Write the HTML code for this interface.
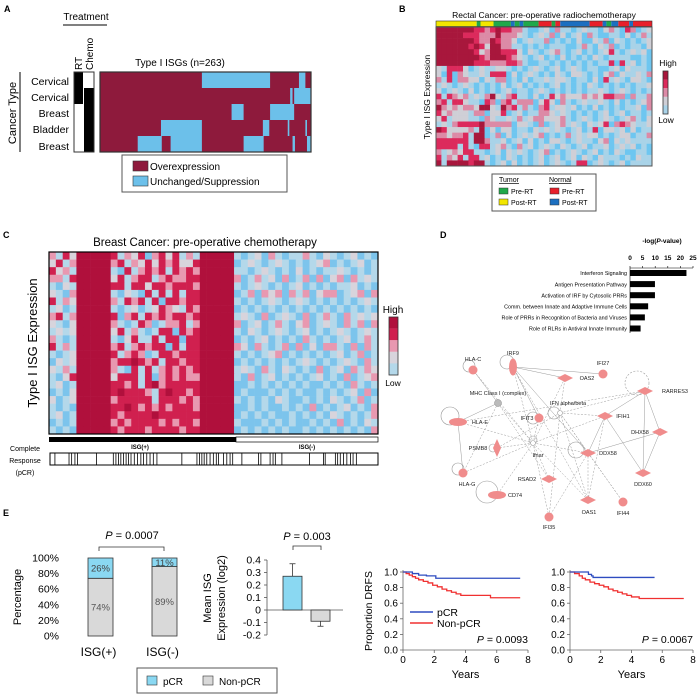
<!DOCTYPE html>
<html><head><meta charset="utf-8">
<style>
html,body{margin:0;padding:0;background:#fff;}
svg{display:block;font-family:"Liberation Sans",Arial,sans-serif;}
</style></head>
<body>
<svg id="fig" width="700" height="700" viewBox="0 0 700 700" xmlns="http://www.w3.org/2000/svg">
<g id="pA">
<text x="4" y="12" font-size="9" font-weight="bold">A</text>
<text x="86" y="20" font-size="10" text-anchor="middle">Treatment</text>
<line x1="63" y1="25" x2="107" y2="25" stroke="#000" stroke-width="1"/>
<text transform="translate(82,70) rotate(-90)" font-size="10">RT</text>
<text transform="translate(93,70) rotate(-90)" font-size="10">Chemo</text>
<text x="180" y="66" font-size="10" text-anchor="middle">Type I ISGs (n=263)</text>
<text transform="translate(16,113) rotate(-90)" font-size="11" text-anchor="middle">Cancer Type</text>
<line x1="20" y1="72" x2="20" y2="152" stroke="#000"/>
<g font-size="10.5" text-anchor="end">
<text x="69" y="85">Cervical</text>
<text x="69" y="101">Cervical</text>
<text x="69" y="117">Breast</text>
<text x="69" y="133">Bladder</text>
<text x="69" y="150">Breast</text>
</g>
<g id="aTreat"></g>
<g id="aHeat"></g>
<rect x="122" y="155" width="165" height="37" fill="#fff" stroke="#555"/>
<rect x="133" y="161" width="15" height="10" fill="#8e1a3c" stroke="#333" stroke-width="0.6"/>
<text x="150" y="170" font-size="10">Overexpression</text>
<rect x="133" y="176" width="15" height="10" fill="#6cc0ea" stroke="#333" stroke-width="0.6"/>
<text x="150" y="185" font-size="10">Unchanged/Suppression</text>
</g>

<g id="pB">
<text x="399" y="12" font-size="9" font-weight="bold">B</text>
<text x="544" y="18" font-size="8.5" text-anchor="middle">Rectal Cancer: pre-operative radiochemotherapy</text>
<g id="bStrip"></g>
<g id="bHeat"></g>
<text transform="translate(430,97) rotate(-90)" font-size="8.5" text-anchor="middle">Type I ISG Expression</text>
<g id="bBar"></g>
<text x="668" y="66" font-size="8.5" text-anchor="middle">High</text>
<text x="666" y="123" font-size="8.5" text-anchor="middle">Low</text>
<rect x="492" y="174" width="104" height="37" fill="#fff" stroke="#555"/>
<g font-size="7">
<text x="499" y="182" text-decoration="underline">Tumor</text>
<text x="549" y="182" text-decoration="underline">Normal</text>
<rect x="499" y="188" width="9" height="6" fill="#1fa84a" stroke="#333" stroke-width="0.5"/>
<text x="511" y="194">Pre-RT</text>
<rect x="499" y="199" width="9" height="6" fill="#f2e600" stroke="#333" stroke-width="0.5"/>
<text x="511" y="205">Post-RT</text>
<rect x="550" y="188" width="9" height="6" fill="#e8202a" stroke="#333" stroke-width="0.5"/>
<text x="562" y="194">Pre-RT</text>
<rect x="550" y="199" width="9" height="6" fill="#1c6fc0" stroke="#333" stroke-width="0.5"/>
<text x="562" y="205">Post-RT</text>
</g>
</g>

<g id="pC">
<text x="3" y="238" font-size="9" font-weight="bold">C</text>
<text x="205" y="246" font-size="11.5" text-anchor="middle">Breast Cancer: pre-operative chemotherapy</text>
<g id="cHeat"></g>
<text transform="translate(37,343) rotate(-90)" font-size="13" text-anchor="middle">Type I ISG Expression</text>
<g id="cBar"></g>
<text x="393" y="313" font-size="10" text-anchor="middle">High</text>
<text x="393" y="386" font-size="8.5" text-anchor="middle">Low</text>
<rect x="49" y="437" width="187" height="5" fill="#000"/>
<rect x="236" y="437" width="142" height="5" fill="#fff" stroke="#000" stroke-width="0.7"/>
<text x="140" y="449" font-size="6" font-weight="bold" text-anchor="middle">ISG(+)</text>
<text x="307" y="449" font-size="6" font-weight="bold" text-anchor="middle">ISG(-)</text>
<g font-size="7" text-anchor="middle">
<text x="25" y="451">Complete</text>
<text x="25" y="463">Response</text>
<text x="25" y="475">(pCR)</text>
</g>
<rect x="50" y="453" width="328" height="12" fill="#fff" stroke="#000" stroke-width="1"/>
<g id="cPcr"></g>
</g>

<g id="pD">
<text x="440" y="238" font-size="9" font-weight="bold">D</text>
<text x="662" y="243" font-size="6.5" font-weight="bold" text-anchor="middle">-log(<tspan font-style="italic">P</tspan>-value)</text>
<g id="dBars"></g>
<g id="dNet"></g>
</g>

<g id="pE">
<text x="3" y="516" font-size="9" font-weight="bold">E</text>
<g id="eStack"></g>
<g id="eMean"></g>
<rect x="137" y="668" width="140" height="25" fill="#fff" stroke="#555"/>
<rect x="147" y="676" width="10" height="9" fill="#8ad8f2" stroke="#333" stroke-width="0.6"/>
<text x="163" y="685" font-size="10">pCR</text>
<rect x="203" y="676" width="10" height="9" fill="#d9d9d9" stroke="#333" stroke-width="0.6"/>
<text x="219" y="685" font-size="10">Non-pCR</text>
<g id="eKM1"></g>
<g id="eKM2"></g>
</g>
</svg>

<script>
var NS="http://www.w3.org/2000/svg";
function mk(parent,tag,attrs){var e=document.createElementNS(NS,tag);for(var k in attrs)e.setAttribute(k,attrs[k]);parent.appendChild(e);return e;}
function $(id){return document.getElementById(id);}

/* ---------- Panel A data ---------- */
var aGeneCount=263;
var aRowLabels=["Cervical","Cervical","Breast","Bladder","Breast"];
var aRT=[1,1,0,0,0];
var aChemo=[0,1,1,1,1];
var aBlueRanges=[
 [[127,211],[248,255]],
 [[237,239],[242,262]],
 [[164,178],[212,241]],
 [[76,126],[203,210],[234,235],[256,257]],
 [[47,76],[88,126],[179,203],[240,242],[258,262]]
];

/* ---------- Panel B data ---------- */
var bGroups=["TPost","TPre","TPost","TPre","NPost","TPre","NPost","TPre","NPre","TPre","NPre","NPost","NPre","NPost","TPre","NPost","NPre","NPost","NPre"];
var bGroupLen=[7.5,0.7,2.4,3.2,0.7,0.9,0.7,2.8,2.4,0.7,0.9,5.4,2.4,0.7,0.9,1.3,2.0,0.7,3.5];
var bRows=[
"5555555443454433100120311012110231043012",
"5555544433353332101213020120310011020131",
"5555555433543320121130101020021302101012",
"5555554542553311010101110013102130101102",
"5555555423554442021012310120101241012120",
"5555555543555432101201020101021011110010",
"5555555444333443100110101010101140412010",
"2144420121122101012101201210110012021110",
"2040321121444020121010210221010230211213",
"3140332202133010201121221011020412102210",
"1210121010102012010101201010210101010112",
"2012102010101201101210101010112101210101",
"4143231213521341102014232223232443303113",
"3414421104303413330242031012112102010123",
"5323233255215341310341221201020101011203",
"4232221330224012011332121010101201201101",
"2412221103211213123322231012101210123102",
"1213444453333302210301231210212403432112",
"5422223150202201102121210120140221202011",
"3323341550130201212301013121220101220113",
"4444441553112012020102210121102302121111",
"4444141044123103120121021012011201212010",
"3123244110120212101230101210120102100110",
"4132414412010210101201201202102111010211",
"5155554551012020101201210144012101201111"
];

/* ---------- Panel C data ---------- */
var cLeftA=["3142","2413","4231","3314","1021","2103","4132","1201","3413","2102","1212","3101","4131","1012","0212","2131","1024","1201","0102","2012","1010","1201","0101","1010"];
var cLeftB=["4132403424131","3413242434224","1041343414343","2413441343344","4414424434443","1021041414144","3143414044344","1012012432143","4034143434434","3101430133413","2413101440434","1024114144044","3413434404144","4134301443444","3445434144344","3104141343434","2444140343433","4434145344444","4544431454434","3444441444343","4454343434443","4344445444444","3434444343443","4344434444344"];
var cRight=["101203101131021012010","012101210101230101201","110121010201011210101","301312030130302303121","101210101201010112010","013032303130233012303","101012101210101010121","010101010101010101010","121030121030131031212","301201310230121031303","102101210120101210121","010120101031010120131","320310130302033103031","101012301010101201301","010101010121010121031","121031021010301203132","103012010101201030123","001010101010010103101","010001010100101012030","101010210010102101301","001010010103010120103","010101001010102101013","100010101001010301021","010101010010101010103"];
var pcrPos=[.015,.058,.066,.076,.084,.142,.193,.201,.209,.216,.224,.232,.239,.247,.257,.267,.277,.285,.295,.305,.315,.326,.402,.448,.456,.463,.470,.478,.488,.498,.507,.514,.529,.539,.549,.557,.585,.636,.643,.671,.680,.687,.707,.791,.834,.839,.870,.877,.885,.895,.905,.916,.924,.934];

/* ---------- Panel D data ---------- */
var dPathways=["Interferon Signaling","Antigen Presentation Pathway","Activation of IRF by Cytosolic PRRs","Comm. between Innate and Adaptive Immune Cells","Role of PRRs in Recognition of Bacteria and Viruses","Role of RLRs in Antiviral Innate Immunity"];
var dValues=[22.4,9.9,9.9,7.2,5.9,4.2];
var dTicks=[0,5,10,15,20,25];

/* ---------- Panel E data ---------- */
var eGroups=["ISG(+)","ISG(-)"];
var ePcr=[26,11];
var eNonPcr=[74,89];
var ePctTicks=[0,20,40,60,80,100];
var eMeanVals=[0.27,-0.09];
var eMeanErr=[0.10,0.04];
var eMeanTicks=[-0.2,-0.1,0,0.1,0.2,0.3,0.4];
var eMeanTickLabels=["-0.2","-0.1","0","0.1","0.2","0.3","0.4"];
var kmYTicks=[0,0.2,0.4,0.6,0.8,1.0];
var kmXTicks=[0,2,4,6,8];
var km1PcrT=[0,0.6,1.0,1.5,2.1,7.5];
var km1PcrS=[1,0.98,0.96,0.95,0.92,0.92];
var km1NonT=[0,0.2,0.4,0.6,0.8,1.0,1.3,1.6,1.9,2.2,2.5,2.8,3.1,3.4,3.7,4.0,5.0,5.6,7.5];
var km1NonS=[1,0.98,0.96,0.94,0.92,0.90,0.88,0.86,0.83,0.81,0.78,0.76,0.74,0.72,0.70,0.70,0.70,0.67,0.67];
var km2PcrT=[0,1.2,1.4,1.5,5.5];
var km2PcrS=[1,0.97,0.95,0.93,0.93];
var km2NonT=[0,0.3,0.6,0.8,1.0,1.3,1.6,1.9,2.2,2.5,2.8,3.1,3.4,3.7,4.0,4.5,7.4];
var km2NonS=[1,0.98,0.95,0.92,0.90,0.87,0.85,0.83,0.81,0.78,0.76,0.74,0.72,0.70,0.68,0.66,0.66];

/* ===== Draw A ===== */
(function(){
 var x0=100,x1=311,y0=72,rh=16,g=$("aHeat"),t=$("aTreat");
 var sx=function(i){return x0+(x1-x0)*i/aGeneCount;};
 for(var r=0;r<aRowLabels.length;r++){
  var bg=mk(g,"rect",{x:x0,y:y0+r*rh,width:x1-x0,height:rh,fill:"#8e1a3c"});
  
  
  aBlueRanges[r].forEach(function(rg){
   var c=mk(g,"rect",{x:sx(rg[0]),y:y0+r*rh,width:sx(rg[1]+1)-sx(rg[0]),height:rh,fill:"#6cc0ea"});
   
   
  });
  var a=mk(t,"rect",{x:74,y:y0+r*rh,width:9,height:rh,fill:aRT[r]?"#000":"#fff"});
  
  
  var b=mk(t,"rect",{x:84,y:y0+r*rh,width:10,height:rh,fill:aChemo[r]?"#000":"#fff"});
  
  
 }
 mk(g,"rect",{x:x0,y:y0,width:x1-x0,height:80,fill:"none",stroke:"#333","stroke-width":1.2});
 mk(t,"rect",{x:74,y:y0,width:20,height:80,fill:"none",stroke:"#333","stroke-width":1});
})();

/* ===== Draw B ===== */
var palB=["#6ec6f0","#a9d3e8","#cfcfd6","#dc8aa6","#dc2a5c","#a8173c"];
(function(){
 var x0=436,x1=652,y0=27,y1=166,g=$("bHeat");
 var nc=bRows[0].length,nr=bRows.length,cw=(x1-x0)/nc,rh=(y1-y0)/nr;
 for(var r=0;r<nr;r++)for(var c=0;c<nc;c++){
  var v=+bRows[r][c];
  var e=mk(g,"rect",{x:x0+c*cw,y:y0+r*rh,width:cw+0.3,height:rh+0.3,fill:palB[v]});
  
  
 }
 mk(g,"rect",{x:x0,y:y0,width:x1-x0,height:y1-y0,fill:"none",stroke:"#555","stroke-width":1});
 var cols={TPre:"#1fa84a",TPost:"#f2e600",NPre:"#e8202a",NPost:"#1c6fc0"};
 var tot=bGroupLen.reduce(function(a,b){return a+b;},0),cx=x0,s=$("bStrip");
 for(var i=0;i<bGroups.length;i++){
  var w=(x1-x0)*bGroupLen[i]/tot;
  var e2=mk(s,"rect",{x:cx,y:21,width:w,height:5.5,fill:cols[bGroups[i]]});
  
  
  cx+=w;
 }
 mk(s,"rect",{x:x0,y:21,width:x1-x0,height:5.5,fill:"none",stroke:"#333","stroke-width":0.6});
 var bb=$("bBar");
 for(var k=0;k<5;k++){mk(bb,"rect",{x:663,y:71+k*8.6,width:5,height:8.7,fill:palB[5-k]});}
 var o=mk(bb,"rect",{x:663,y:71,width:5,height:43,fill:"none",stroke:"#333","stroke-width":0.8});
 
 
})();

/* ===== Draw C ===== */
var palC=["#7cc4ec","#b4d8ea","#d8d4dc","#e898b0","#d0204f","#b0103c"];
(function(){
 var x0=49,x1=378,y0=252,y1=434,g=$("cHeat"),nc=48,nr=cLeftA.length;
 var cw=(x1-x0)/nc,rh=(y1-y0)/nr;
 for(var r=0;r<nr;r++){
  var row=(cLeftA[r]+"55555"+cLeftB[r]+"55555"+cRight[r]);
  for(var c=0;c<nc&&c<row.length;c++){
   var v=+row[c];
   var e=mk(g,"rect",{x:x0+c*cw,y:y0+r*rh,width:cw+0.3,height:rh+0.3,fill:palC[v]});
   
   
  }
 }
 mk(g,"rect",{x:x0,y:y0,width:x1-x0,height:y1-y0,fill:"none",stroke:"#000","stroke-width":1.2});
 var cb=$("cBar");
 for(var k=0;k<5;k++){mk(cb,"rect",{x:389,y:317+k*11.6,width:9,height:11.7,fill:palC[5-k]});}
 var o=mk(cb,"rect",{x:389,y:317,width:9,height:58,fill:"none",stroke:"#333","stroke-width":0.8});
 
 
 var p=$("cPcr");
 pcrPos.forEach(function(f){
  var l=mk(p,"line",{x1:50+328*f,y1:453,x2:50+328*f,y2:465,stroke:"#000","stroke-width":0.8});
  
  
 });
})();

/* ===== Draw D ===== */
(function(){
 var g=$("dBars"),ax0=630,ax1=693,sx=function(v){return ax0+(ax1-ax0)*v/25;};
 dTicks.forEach(function(t){
  var tx=mk(g,"text",{x:sx(t),y:260,"font-size":6.5,"font-weight":"bold","text-anchor":"middle"});
  tx.textContent=t;
  
  
  mk(g,"line",{x1:sx(t),y1:266,x2:sx(t),y2:268,stroke:"#000","stroke-width":0.6});
 });
 mk(g,"line",{x1:ax0,y1:268,x2:ax1,y2:268,stroke:"#000","stroke-width":0.6});
 mk(g,"line",{x1:ax0,y1:268,x2:ax0,y2:333,stroke:"#000","stroke-width":0.6});
 dPathways.forEach(function(p,i){
  var cy=273+i*11.1;
  var b=mk(g,"rect",{x:ax0,y:cy-3,width:sx(dValues[i])-ax0,height:6,fill:"#000"});
  
  
  var t=mk(g,"text",{x:627,y:cy+2.2,"font-size":5.4,"text-anchor":"end"});
  t.textContent=p;
  
  
 });
 var n=$("dNet");
 var nodes={
  "HLA-C":[473,370,"c"],"IRF9":[513,367,"ev"],"IFI27":[603,374,"c"],"OAS2":[565,378,"d"],
  "MHC":[498,403,"g"],"IFN":[560,413,"o"],"RARRES3":[645,391,"d"],"IFIH1":[605,416,"d"],
  "IFIT3":[539,418,"c"],"HLA-E":[458,422,"eh"],"DHX58":[660,432,"d"],"PSMB8":[497,448,"dv"],
  "Ifnar":[533,443,"o"],"DDX58":[588,453,"d"],"HLA-G":[463,473,"c"],"RSAD2":[549,479,"d"],
  "DDX60":[643,473,"d"],"CD74":[497,495,"eh"],"OAS1":[588,500,"d"],"IFI44":[623,502,"c"],"IFI35":[549,517,"c"]
 };
 var dashed=[["Ifnar","IRF9"],["Ifnar","HLA-E"],["Ifnar","PSMB8"],["Ifnar","HLA-G"],["Ifnar","RSAD2"],["Ifnar","OAS1"],["Ifnar","IFI35"],["Ifnar","DDX58"],["Ifnar","IFIH1"],["Ifnar","OAS2"],["Ifnar","MHC"],["Ifnar","IFIT3"],["Ifnar","CD74"],["Ifnar","HLA-C"],
  ["IFN","RARRES3"],["IFN","IFIH1"],["IFN","OAS2"],["IFN","IFI35"],["IFN","OAS1"],["IFN","IFI44"],["IFN","DDX58"],["IFN","PSMB8"],["MHC","HLA-G"],["MHC","RSAD2"],["DDX58","IFI35"],["DDX58","OAS1"],["DDX58","IFI44"],["IFIH1","OAS1"],["IRF9","OAS1"],["RARRES3","HLA-E"]];
 var solid=[["IRF9","IFI27"],["IRF9","OAS2"],["IRF9","IFIT3"],["IRF9","DDX58"],["MHC","HLA-E"],["MHC","HLA-C"],["HLA-E","HLA-G"],["RARRES3","DHX58"],["RARRES3","IFIH1"],["DHX58","DDX60"],["DHX58","DDX58"],["IFIH1","DDX60"],["DDX58","IFIH1"],["RARRES3","DDX60"]];
 function edge(pair,dash){
  var a=nodes[pair[0]],b=nodes[pair[1]];
  var l=mk(n,"line",{x1:a[0],y1:a[1],x2:b[0],y2:b[1],stroke:"#999","stroke-width":0.5});
  if(dash)l.setAttribute("stroke-dasharray","2,1.5");
  
  
 }
 dashed.forEach(function(p){edge(p,true);});
 solid.forEach(function(p){edge(p,false);});
 // self loops
 [["HLA-C",-4,-4,6],["IRF9",-6,-5,7],["HLA-E",-8,-6,9],["HLA-G",-5,-4,6],["CD74",-10,-3,11],["DDX58",-12,-3,8],["Ifnar",0,-3,4],["PSMB8",-4,0,4],["IFN",-6,0,6],["RARRES3",-8,-8,12],["IFIT3",-6,0,6]].forEach(function(s){
  var a=nodes[s[0]];
  mk(n,"circle",{cx:a[0]+s[1],cy:a[2]?a[1]+s[2]:a[1],r:s[3],fill:"none",stroke:"#999","stroke-width":0.6,"stroke-dasharray":s[0]=="RARRES3"?"2,1.5":"none"});
 });
 var fill="#f08c8c";
 for(var k in nodes){
  var a=nodes[k],sh=a[2],el;
  if(sh=="c")el=mk(n,"circle",{cx:a[0],cy:a[1],r:4.5,fill:fill});
  else if(sh=="ev")el=mk(n,"ellipse",{cx:a[0],cy:a[1],rx:4,ry:8.5,fill:fill});
  else if(sh=="eh")el=mk(n,"ellipse",{cx:a[0],cy:a[1],rx:9,ry:4,fill:fill});
  else if(sh=="d")el=mk(n,"polygon",{points:(a[0]-8)+","+a[1]+" "+a[0]+","+(a[1]-4)+" "+(a[0]+8)+","+a[1]+" "+a[0]+","+(a[1]+4),fill:fill});
  else if(sh=="dv")el=mk(n,"polygon",{points:(a[0]-4)+","+a[1]+" "+a[0]+","+(a[1]-9)+" "+(a[0]+4)+","+a[1]+" "+a[0]+","+(a[1]+9),fill:fill});
  else if(sh=="g")el=mk(n,"circle",{cx:a[0],cy:a[1],r:3.5,fill:"#bbb",stroke:"#888","stroke-width":0.5});
  else el=mk(n,"circle",{cx:a[0],cy:a[1],r:2.5,fill:"#fff",stroke:"#999","stroke-width":0.6});
  
  
 }
 var labels=[["HLA-C",473,361],["IRF9",513,355],["IFI27",603,365],["OAS2",587,380],["MHC Class I (complex)",498,395],["IFN alpha/beta",568,405],["RARRES3",675,393],["IFIH1",623,418],["IFIT3",527,420],["HLA-E",480,424],["DHX58",640,434],["PSMB8",478,450],["Ifnar",538,457],["DDX58",608,455],["HLA-G",467,486],["RSAD2",527,481],["DDX60",643,486],["CD74",515,497],["OAS1",589,514],["IFI44",623,515],["IFI35",549,529]];
 labels.forEach(function(L){
  var t=mk(n,"text",{x:L[1],y:L[2],"font-size":5.5,"text-anchor":"middle",fill:"#222"});
  t.textContent=L[0];
  
  
 });
})();

/* ===== Draw E stacked ===== */
(function(){
 var g=$("eStack"),y0=636,y100=558,sy=function(v){return y0-(y0-y100)*v/100;};
 var bx=[88,152],bw=25;
 ePctTicks.forEach(function(t){
  var tx=mk(g,"text",{x:59,y:sy(t)+3.5,"font-size":10.5,"text-anchor":"end"});
  tx.textContent=t+"%";
  
  
 });
 var yl=mk(g,"text",{transform:"translate(21,597) rotate(-90)","font-size":11,"text-anchor":"middle"});
 yl.textContent="Percentage";
 
 
 for(var i=0;i<2;i++){
  var n=mk(g,"rect",{x:bx[i],y:sy(eNonPcr[i]),width:bw,height:y0-sy(eNonPcr[i]),fill:"#d9d9d9",stroke:"#333","stroke-width":0.8});
  
  
  var p=mk(g,"rect",{x:bx[i],y:sy(eNonPcr[i]+ePcr[i]),width:bw,height:sy(eNonPcr[i])-sy(eNonPcr[i]+ePcr[i]),fill:"#8ad8f2",stroke:"#333","stroke-width":0.8});
  
  
  var t1=mk(g,"text",{x:bx[i]+bw/2,y:(sy(eNonPcr[i])+sy(eNonPcr[i]+ePcr[i]))/2+3.5,"font-size":9.5,"text-anchor":"middle",fill:"#444"});
  t1.textContent=ePcr[i]+"%";
  
  
  var t2=mk(g,"text",{x:bx[i]+bw/2,y:(y0+sy(eNonPcr[i]))/2+3.5,"font-size":9.5,"text-anchor":"middle",fill:"#555"});
  t2.textContent=eNonPcr[i]+"%";
  
  
  var xl=mk(g,"text",{x:bx[i]+bw/2-2,y:656,"font-size":12,"text-anchor":"middle"});
  xl.textContent=eGroups[i];
  
  
 }
 mk(g,"path",{d:"M99,551 L99,547 L164,547 L164,551",fill:"none",stroke:"#333","stroke-width":0.8});
 var pt=mk(g,"text",{x:132,y:539,"font-size":11,"text-anchor":"middle"});
 pt.innerHTML='<tspan font-style="italic">P</tspan> = 0.0007';
 
 

 /* mean ISG */
 var m=$("eMean"),zy=610,per=125,my=function(v){return zy-per*v;};
 mk(m,"line",{x1:267,y1:my(0.4),x2:267,y2:my(-0.2),stroke:"#555","stroke-width":0.8});
 mk(m,"line",{x1:267,y1:zy,x2:343,y2:zy,stroke:"#555","stroke-width":0.8});
 eMeanTicks.forEach(function(t,i){
  mk(m,"line",{x1:264,y1:my(t),x2:267,y2:my(t),stroke:"#555","stroke-width":0.8});
  var tx=mk(m,"text",{x:261,y:my(t)+3.5,"font-size":10.5,"text-anchor":"end"});
  tx.textContent=eMeanTickLabels[i];
  
  
 });
 var mx=[283,311],mw=19,mc=["#8ad8f2","#d9d9d9"];
 for(var j=0;j<2;j++){
  var v=eMeanVals[j],top=Math.min(my(v),zy),h=Math.abs(my(v)-zy);
  var b=mk(m,"rect",{x:mx[j],y:top,width:mw,height:h,fill:mc[j],stroke:"#333","stroke-width":0.8});
  
  
  var ev=v+(v>=0?eMeanErr[j]:-eMeanErr[j]);
  mk(m,"line",{x1:mx[j]+mw/2,y1:my(v),x2:mx[j]+mw/2,y2:my(ev),stroke:"#333","stroke-width":0.8});
  mk(m,"line",{x1:mx[j]+mw/2-3,y1:my(ev),x2:mx[j]+mw/2+3,y2:my(ev),stroke:"#333","stroke-width":0.8});
 }
 mk(m,"path",{d:"M293,550 L293,546 L321,546 L321,550",fill:"none",stroke:"#333","stroke-width":0.8});
 var pt2=mk(m,"text",{x:307,y:540,"font-size":11,"text-anchor":"middle"});
 pt2.innerHTML='<tspan font-style="italic">P</tspan> = 0.003';
 
 
 var a1=mk(m,"text",{transform:"translate(211,598) rotate(-90)","font-size":11,"text-anchor":"middle"});
 a1.textContent="Mean ISG";
 
 
 var a2=mk(m,"text",{transform:"translate(225,598) rotate(-90)","font-size":11,"text-anchor":"middle"});
 a2.textContent="Expression (log2)";
 
 
})();

/* ===== KM ===== */
function drawKM(g,x0,x8,pT,pS,nT,nS,ptxt,showLegend,showY){
 var y0=650,y1=572,sx=function(t){return x0+(x8-x0)*t/8;},sy=function(s){return y0-(y0-y1)*s;};
 mk(g,"line",{x1:x0,y1:y1-2,x2:x0,y2:y0,stroke:"#666","stroke-width":0.8});
 mk(g,"line",{x1:x0,y1:y0,x2:x8,y2:y0,stroke:"#666","stroke-width":0.8});
 kmYTicks.forEach(function(t){
  mk(g,"line",{x1:x0-3,y1:sy(t),x2:x0,y2:sy(t),stroke:"#666","stroke-width":0.8});
  var tx=mk(g,"text",{x:x0-5,y:sy(t)+3.5,"font-size":10,"text-anchor":"end"});
  tx.textContent=t.toFixed(1);
  
  
 });
 kmXTicks.forEach(function(t){
  mk(g,"line",{x1:sx(t),y1:y0,x2:sx(t),y2:y0+3,stroke:"#666","stroke-width":0.8});
  var tx=mk(g,"text",{x:sx(t),y:y0+13,"font-size":10,"text-anchor":"middle"});
  tx.textContent=t;
  
  
 });
 var xl=mk(g,"text",{x:(x0+x8)/2,y:678,"font-size":11,"text-anchor":"middle"});
 xl.textContent="Years";
 
 
 function step(T,S){var d="M"+sx(T[0])+","+sy(S[0]);for(var i=1;i<T.length;i++){d+=" L"+sx(T[i])+","+sy(S[i-1])+" L"+sx(T[i])+","+sy(S[i]);}return d;}
 var pn=mk(g,"path",{d:step(nT,nS),fill:"none",stroke:"#f03030","stroke-width":1.3});
 
 
 var pp=mk(g,"path",{d:step(pT,pS),fill:"none",stroke:"#2e4cc0","stroke-width":1.3});
 
 
 var pv=mk(g,"text",{x:x8,y:643,"font-size":10.5,"text-anchor":"end"});
 pv.innerHTML='<tspan font-style="italic">P</tspan> = '+ptxt;
 
 
 if(showLegend){
  mk(g,"line",{x1:410,y1:612,x2:433,y2:612,stroke:"#2e4cc0","stroke-width":1.6});
  mk(g,"line",{x1:410,y1:623,x2:433,y2:623,stroke:"#f03030","stroke-width":1.6});
  var l1=mk(g,"text",{x:437,y:616,"font-size":10.5});l1.textContent="pCR";
  
  
  var l2=mk(g,"text",{x:437,y:627,"font-size":10.5});l2.textContent="Non-pCR";
  
  
 }
 if(showY){
  var yl=mk(g,"text",{transform:"translate(372,611) rotate(-90)","font-size":10.5,"text-anchor":"middle"});
  yl.textContent="Proportion DRFS";
  
  
 }
}
drawKM($("eKM1"),403,528,km1PcrT,km1PcrS,km1NonT,km1NonS,"0.0093",true,true);
drawKM($("eKM2"),570,693,km2PcrT,km2PcrS,km2NonT,km2NonS,"0.0067",false,false);
</script>
</body></html>
